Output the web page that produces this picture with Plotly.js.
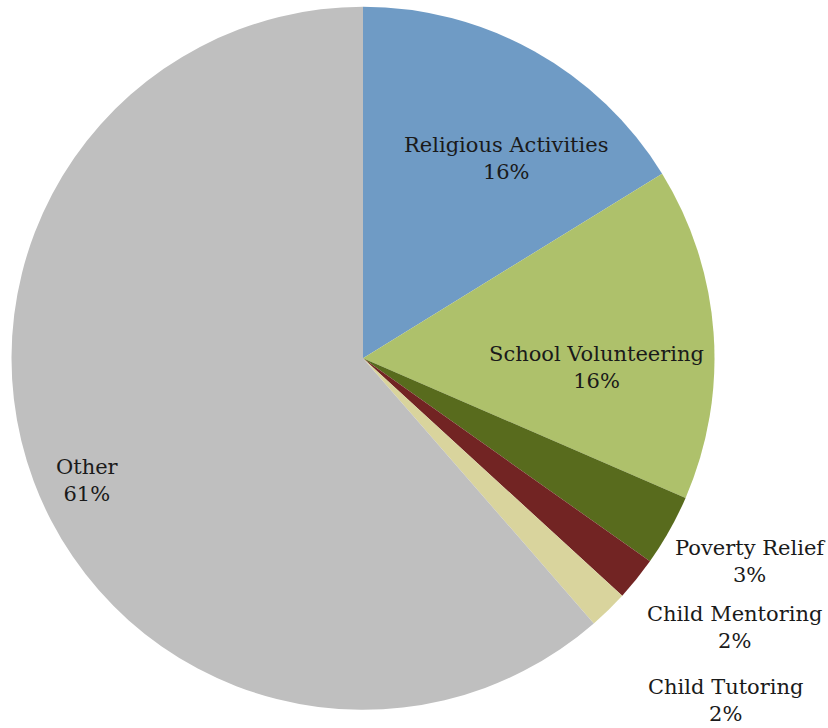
<!DOCTYPE html>
<html>
<head>
<meta charset="utf-8">
<script src="https://cdn.plot.ly/plotly-3.0.1.min.js"></script>
<style>html,body{margin:0;padding:0;background:#fff;}#chart{width:828px;height:728px;}</style>
</head>
<body>
<div id="chart"></div>
<script>
// Data
const categories = ["Religious Activities", "School Volunteering", "Poverty Relief", "Child Mentoring", "Child Tutoring", "Other"];
const values = [16.2, 15.3, 3.3, 2.0, 1.8, 61.4];
const percentLabels = ["16%", "16%", "3%", "2%", "2%", "61%"];
const colors = ["#6F9BC5", "#AEC16B", "#586B1D", "#722423", "#D9D49D", "#BFBFBF"];

// Label placement (pixels in the 828x728 canvas)
const W = 828, H = 728;
const labelPos = [[506, 158], [596, 367], [750, 561], [734, 627], [725, 700], [87, 480]];

const cx = 363, cy = 358.3, r = 351.5;

const trace = {
  type: "pie",
  labels: categories,
  values: values,
  sort: false,
  direction: "clockwise",
  rotation: 0,
  marker: { colors: colors, line: { width: 0 } },
  textinfo: "none",
  hoverinfo: "label+percent",
  showlegend: false,
  domain: { x: [(cx - r) / W, (cx + r) / W], y: [1 - (cy + r) / H, 1 - (cy - r) / H] }
};

const annotations = categories.map((c, i) => ({
  xref: "paper", yref: "paper",
  x: labelPos[i][0] / W, y: 1 - labelPos[i][1] / H,
  xanchor: "center", yanchor: "middle",
  text: c + "<br>" + percentLabels[i],
  showarrow: false,
  align: "center",
  font: { family: "DejaVu Serif", size: 21, color: "#1a1a1a" }
}));

const layout = {
  width: W, height: H,
  margin: { l: 0, r: 0, t: 0, b: 0 },
  paper_bgcolor: "#ffffff",
  showlegend: false,
  annotations: annotations
};

Plotly.newPlot("chart", [trace], layout, { displayModeBar: false, staticPlot: true });
</script>
</body>
</html>
